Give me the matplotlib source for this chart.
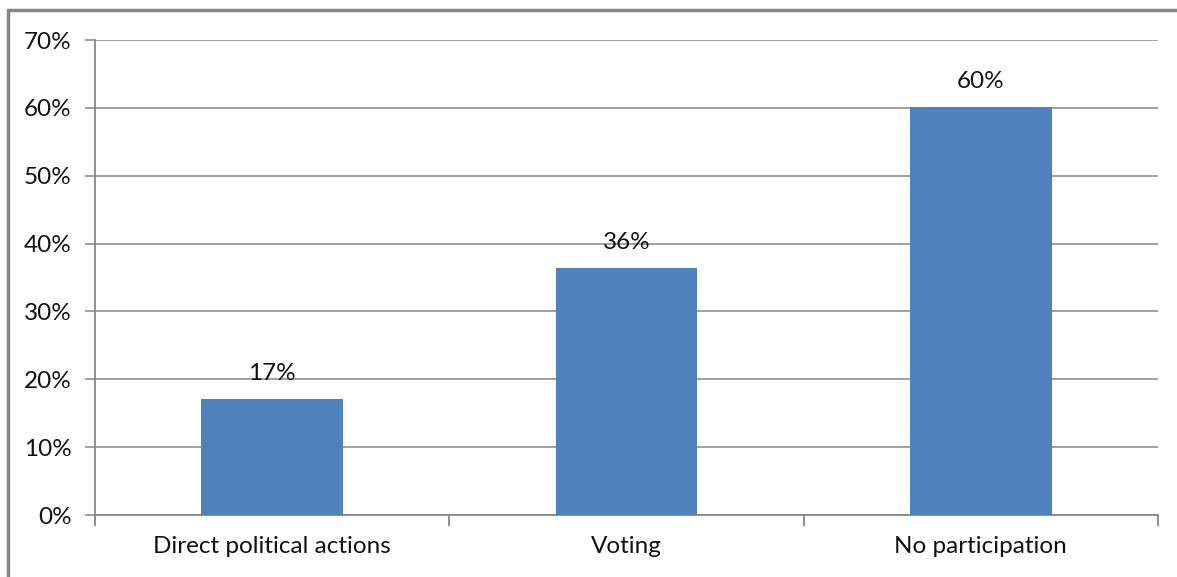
import matplotlib.pyplot as plt
from matplotlib.patches import Rectangle
from matplotlib.ticker import PercentFormatter

categories = ['Direct political actions', 'Voting', 'No participation']
shares = [0.171, 0.364, 0.601]
y_ticks = [0, 0.1, 0.2, 0.3, 0.4, 0.5, 0.6, 0.7]

plt.rcParams['font.family'] = ['Lato', 'DejaVu Sans']

fig = plt.figure(figsize=(11.77, 5.77), dpi=100)
ax = fig.add_axes([95 / 1177, 1 - 515 / 577, (1158 - 95) / 1177, (515 - 40) / 577])

grey = '#868686'
fs = 17.5
x = range(len(categories))
ax.bar(x, shares, width=0.4, color='#4F81BD', zorder=3)
for xi, v in zip(x, shares):
    ax.annotate(f'{v:.0%}', (xi, v), xytext=(0, 11), textcoords='offset points',
                ha='center', va='bottom', fontsize=fs, color='#111111')

ax.set_xlim(-0.5, 2.5)
ax.set_ylim(0, 0.7)
ax.set_yticks(y_ticks)
ax.yaxis.set_major_formatter(PercentFormatter(1.0, decimals=0))
ax.grid(axis='y', color=grey, linewidth=1.1, zorder=0)

ax.set_xticks(x)
ax.set_xticklabels(categories)
ax.set_xticks([-0.5, 0.5, 1.5, 2.5], minor=True)
ax.tick_params(axis='x', which='major', length=0, pad=15, labelsize=fs, labelcolor='#111111')
ax.tick_params(axis='x', which='minor', length=8, width=1.3, color=grey, direction='out')
ax.tick_params(axis='y', length=7, width=1.1, color=grey, pad=10, labelsize=fs, labelcolor='#111111')

for side in ['top', 'right']:
    ax.spines[side].set_visible(False)
for side in ['left', 'bottom']:
    ax.spines[side].set_color(grey)
    ax.spines[side].set_linewidth(1.3)

# chart-area frame, running off the right and bottom edges
fig.patches.append(Rectangle((8 / 1177, -0.1), 1.2, 1 - 10 / 577 + 0.1,
                             transform=fig.transFigure, fill=False,
                             edgecolor=grey, linewidth=2.5))

fig.savefig('out.png', dpi=100)
